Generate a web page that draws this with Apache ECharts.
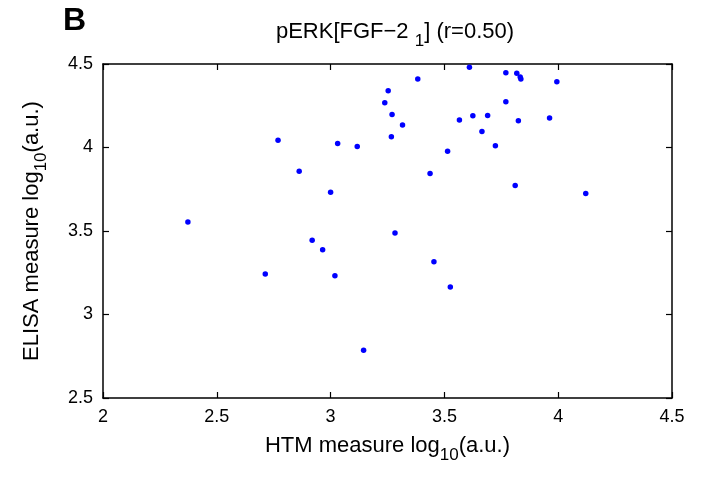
<!DOCTYPE html>
<html>
<head>
<meta charset="utf-8">
<script src="https://cdn.jsdelivr.net/npm/echarts@6/dist/echarts.min.js"></script>
<style>
  html, body { margin: 0; padding: 0; background: #fff; }
  #main { width: 704px; height: 478px; }
</style>
</head>
<body>
<div id="main"></div>
<script>
// HTM measure (x) and ELISA measure (y), both log10
var htm = [2.373, 2.713, 2.769, 2.862, 2.919, 2.965, 3.000, 3.019, 3.031, 3.117,
  3.145, 3.238, 3.253, 3.267, 3.270, 3.283, 3.316, 3.383, 3.437, 3.454,
  3.514, 3.526, 3.566, 3.610, 3.625, 3.665, 3.690, 3.724, 3.770, 3.770,
  3.811, 3.818, 3.825, 3.833, 3.836, 3.962, 3.994, 4.121];
var elisa = [3.554, 3.242, 4.044, 3.858, 3.444, 3.388, 3.732, 3.232, 4.024, 4.006,
  2.786, 4.268, 4.340, 4.064, 4.198, 3.488, 4.134, 4.410, 3.844, 3.316,
  3.978, 3.164, 4.164, 4.480, 4.190, 4.096, 4.192, 4.010, 4.448, 4.274,
  3.772, 4.444, 4.160, 4.422, 4.410, 4.176, 4.394, 3.724];
var xTicks = [2, 2.5, 3, 3.5, 4, 4.5];
var yTicks = [2.5, 3, 3.5, 4, 4.5];

var points = [];
for (var i = 0; i < htm.length; i++) {
  points.push([htm[i], elisa[i]]);
}

var font = '"Liberation Sans", "Open Sans", sans-serif';
var black = '#000';

// subscript helper styles for rich text
var richSub = {
  a: { fontSize: 22, fontFamily: font, color: black, lineHeight: 26, verticalAlign: 'top' },
  s: { fontSize: 17, fontFamily: font, color: black, lineHeight: 20, verticalAlign: 'top', padding: [12, 0, 0, 0] }
};

function boxAxis(pos, min, max, ticks, showLabels) {
  return {
    type: 'value',
    position: pos,
    min: min,
    max: max,
    interval: 0.5,
    axisLine: { show: true, onZero: false, lineStyle: { color: black, width: 1.5 } },
    axisTick: { show: true, inside: true, length: 6, lineStyle: { color: black, width: 1.2 } },
    axisLabel: {
      show: showLabels,
      color: black,
      fontSize: 18,
      fontFamily: font,
      margin: 10,
      formatter: function(v) { return ticks.indexOf(v) >= 0 ? String(v) : ''; }
    },
    splitLine: { show: false }
  };
}

var xBottom = boxAxis('bottom', 2, 4.5, xTicks, true);
xBottom.name = '{a|HTM measure log}{s|10}{a|(a.u.)}';
xBottom.nameLocation = 'middle';
xBottom.nameGap = 37;
xBottom.nameTextStyle = { rich: richSub };

var yLeft = boxAxis('left', 2.5, 4.5, yTicks, true);
yLeft.name = '{a|ELISA measure log}{s|10}{a|(a.u.)}';
yLeft.nameLocation = 'middle';
yLeft.nameGap = 56;
yLeft.nameTextStyle = { rich: richSub };

var xTop = boxAxis('top', 2, 4.5, xTicks, false);
var yRight = boxAxis('right', 2.5, 4.5, yTicks, false);

var myChart = echarts.init(document.getElementById('main'));
var option = {
  backgroundColor: '#fff',
  animation: false,
  title: {
    text: '{a|pERK[FGF\u22122 }{s|1}{a|] (r=0.50)}',
    left: 390,
    textAlign: 'center',
    top: 16,
    textStyle: { fontWeight: 'normal', rich: richSub }
  },
  graphic: [{
    type: 'text',
    left: 63,
    top: 5,
    style: { text: 'B', font: 'bold 32px ' + font, fill: black }
  }],
  grid: { left: 103, right: 32, top: 64, bottom: 80, containLabel: false },
  xAxis: [xBottom, xTop],
  yAxis: [yLeft, yRight],
  series: [{
    type: 'scatter',
    xAxisIndex: 0,
    yAxisIndex: 0,
    symbol: 'circle',
    symbolSize: 5.5,
    itemStyle: { color: '#0000ff', opacity: 1 },
    data: points
  }]
};
myChart.setOption(option);
</script>
</body>
</html>
